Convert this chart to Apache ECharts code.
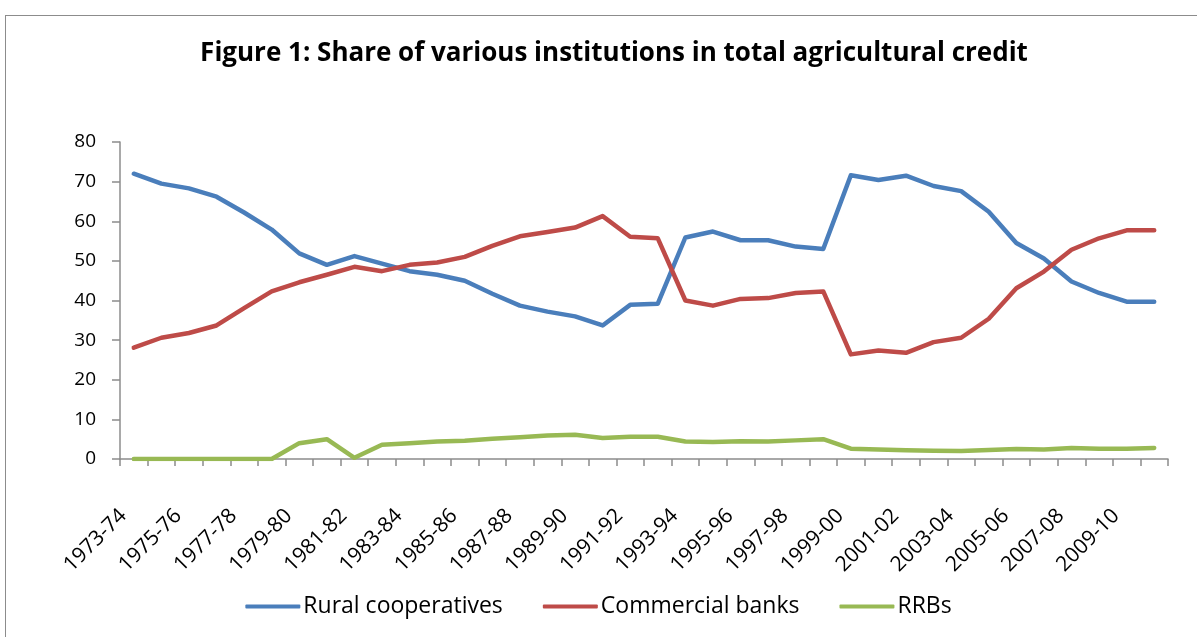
<!DOCTYPE html>
<html>
<head>
<meta charset="utf-8">
<script src="https://cdn.jsdelivr.net/npm/echarts@6/dist/echarts.min.js"></script>
<style>
html,body{margin:0;padding:0;background:#fff;overflow:hidden;}
#frame{position:absolute;left:5px;top:15px;width:1300px;height:700px;border:1.5px solid #8c8c8c;box-sizing:border-box;}
#chart{position:absolute;left:0;top:0;width:1197px;height:637px;}
</style>
</head>
<body>
<div id="frame"></div>
<div id="chart"></div>
<script>
const categories = ["1973-74","1974-75","1975-76","1976-77","1977-78","1978-79","1979-80","1980-81","1981-82","1982-83","1983-84","1984-85","1985-86","1986-87","1987-88","1988-89","1989-90","1990-91","1991-92","1992-93","1993-94","1994-95","1995-96","1996-97","1997-98","1998-99","1999-00","2000-01","2001-02","2002-03","2003-04","2004-05","2005-06","2006-07","2007-08","2008-09","2009-10","2010-11"];
const ruralCooperatives = [72.0,69.5,68.3,66.2,62.2,57.9,51.9,49.0,51.2,49.3,47.4,46.5,45.0,41.7,38.7,37.2,36.0,33.7,38.9,39.2,55.9,57.4,55.2,55.2,53.6,53.0,71.6,70.4,71.5,68.9,67.6,62.4,54.5,50.6,44.8,41.9,39.7,39.7];
const commercialBanks = [28.1,30.6,31.8,33.7,38.1,42.3,44.6,46.5,48.5,47.4,49.0,49.6,51.0,53.8,56.2,57.3,58.4,61.3,56.1,55.7,40.0,38.7,40.4,40.6,41.9,42.3,26.4,27.4,26.8,29.5,30.6,35.4,43.1,47.3,52.8,55.7,57.7,57.7];
const rrbs = [0,0,0,0,0,0,4.0,5.0,0.3,3.6,4.0,4.4,4.6,5.1,5.5,5.9,6.1,5.3,5.6,5.6,4.4,4.3,4.5,4.4,4.7,5.0,2.6,2.4,2.2,2.1,2.0,2.3,2.5,2.4,2.8,2.6,2.6,2.8];
const yTicks = {min:0,max:80,interval:10};

const font = "'Open Sans','Noto Sans',sans-serif";
const chart = echarts.init(document.getElementById('chart'), null, {renderer:'canvas'});
function mk(name, data, color){
  return {name, type:'line', data, symbol:'none', smooth:false,
    lineStyle:{color, width:4.5, cap:'round', join:'round'}, itemStyle:{color}};
}
chart.setOption({
  animation:false,
  backgroundColor:'transparent',
  title:{text:'Figure 1: Share of various institutions in total agricultural credit',
    left:609, top:36, textAlign:'center',
    textStyle:{fontFamily:font,fontWeight:'bold',fontSize:26,color:'#000'}},
  legend:{top:590,left:'center',itemWidth:55,itemHeight:4,itemGap:40,
    icon:'roundRect',
    textStyle:{fontFamily:font,fontSize:23,color:'#000',padding:[0,0,0,-2]},
    data:['Rural cooperatives','Commercial banks','RRBs']},
  grid:{left:120,right:29,top:142,bottom:178,containLabel:false},
  xAxis:{type:'category',data:categories,boundaryGap:true,
    axisLine:{lineStyle:{color:'#8c8c8c',width:1.5}},
    axisTick:{show:true,alignWithLabel:false,interval:0,length:7,lineStyle:{color:'#8c8c8c',width:1.5}},
    axisLabel:{interval:1,rotate:45,fontFamily:font,fontSize:21,color:'#000',margin:43,padding:[0,15,0,0]}},
  yAxis:{type:'value',min:yTicks.min,max:yTicks.max,interval:yTicks.interval,
    splitLine:{show:false},
    axisLine:{show:true,lineStyle:{color:'#8c8c8c',width:1.5}},
    axisTick:{show:true,length:8,lineStyle:{color:'#8c8c8c',width:1.5}},
    axisLabel:{fontFamily:font,fontSize:19,color:'#000',margin:24}},
  series:[mk('Rural cooperatives',ruralCooperatives,'#4a7ebb'),
          mk('Commercial banks',commercialBanks,'#be4b48'),
          mk('RRBs',rrbs,'#98b954')]
});
</script>
</body>
</html>
